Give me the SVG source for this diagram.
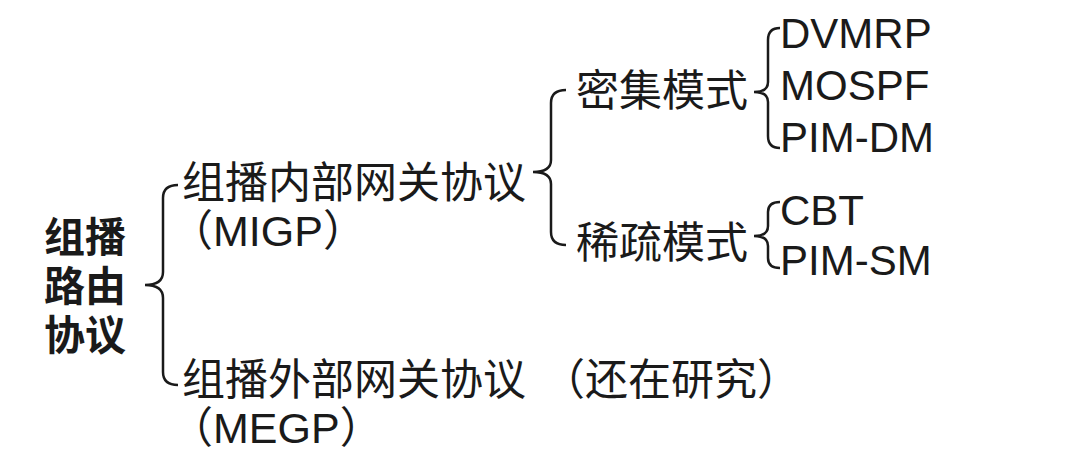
<svg xmlns="http://www.w3.org/2000/svg" width="1080" height="455" viewBox="0 0 1080 455">
<style>
text{font-family:"Liberation Sans","Noto Sans CJK SC",sans-serif;fill:#1a1a1a;font-size:43px}
.l{font-size:42px}
.b{font-weight:bold;font-size:41px}
.br{fill:none;stroke:#1a1a1a;stroke-width:2.5}
</style>
<rect width="1080" height="455" fill="#fff"/>
<g id="root"><text class="b" x="44" y="252">组播</text><text class="b" x="44" y="301">路由</text><text class="b" x="44" y="350">协议</text></g>
<g id="migp"><text x="182" y="198">组播内部网关协议</text><text x="170" y="246">（MIGP）</text></g>
<g id="megp"><text x="182" y="395">组播外部网关协议</text><text x="170" y="443">（MEGP）</text></g>
<g id="research"><text x="542" y="395">（还在研究）</text></g>
<g id="dense"><text x="576" y="106">密集模式</text></g>
<g id="sparse"><text x="576" y="258">稀疏模式</text></g>
<g id="dense-list"><text class="l" x="780" y="48">DVMRP</text><text class="l" x="780" y="100">MOSPF</text><text class="l" x="780" y="152">PIM-DM</text></g>
<g id="sparse-list"><text class="l" x="780" y="225">CBT</text><text class="l" x="780" y="275">PIM-SM</text></g>
<g id="connectors">
<path class="br" d="M178,185 Q163,185 163,198 L163,272 Q163,285 145,285 Q163,285 163,298 L163,372 Q163,385 178,385"/>
<path class="br" d="M566,90 Q551,90 551,103 L551,160 Q551,172 533,172 Q551,172 551,184 L551,232 Q551,245 566,245"/>
<path class="br" d="M780,28 Q768,28 768,40 L768,82 Q768,92 754,92 Q768,92 768,102 L768,136 Q768,148 780,148"/>
<path class="br" d="M780,202 Q768,202 768,212 L768,226 Q768,236 754,236 Q768,236 768,246 L768,258 Q768,268 780,268"/>
</g>
</svg>
